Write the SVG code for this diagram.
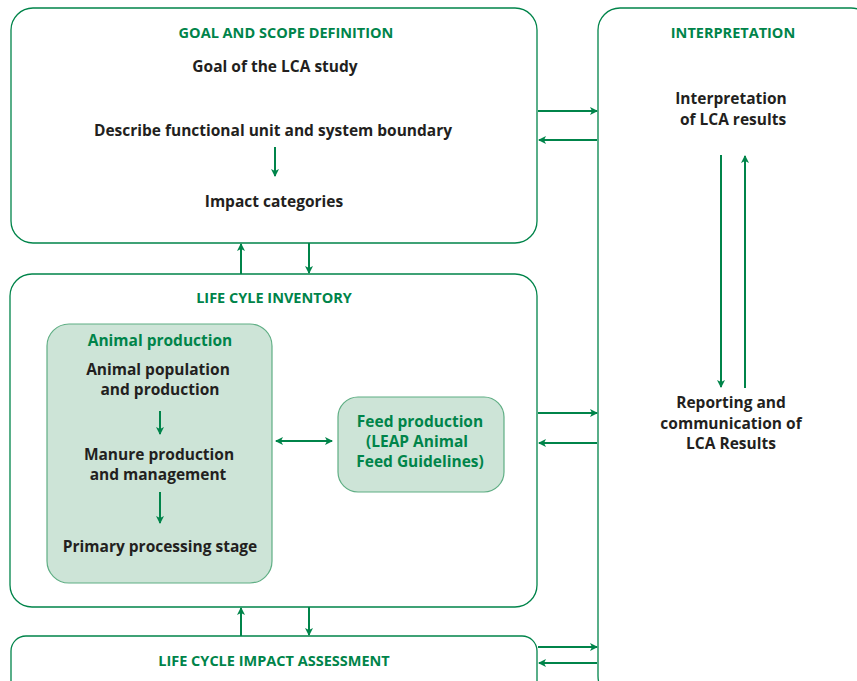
<svg xmlns="http://www.w3.org/2000/svg" width="857" height="681" viewBox="0 0 857 681">
<style>
.box{fill:#fff;stroke:#00844a;stroke-width:1.3}
.sub{fill:#cde4d7;stroke:#5fae84;stroke-width:1.2}
.h{font-family:"Open Sans","Liberation Sans",sans-serif;font-weight:bold;font-size:14.5px;fill:#00844a;text-anchor:middle}
.t{font-family:"Open Sans","Liberation Sans",sans-serif;font-weight:bold;font-size:15.5px;fill:#231f20;text-anchor:middle}
.g{font-family:"Open Sans","Liberation Sans",sans-serif;font-weight:bold;font-size:15.5px;fill:#00844a;text-anchor:middle}
.c{stroke:#00844a;stroke-width:2;fill:none}
</style>
<defs>
<marker id="ah" markerWidth="10" markerHeight="10" refX="8" refY="5" orient="auto" markerUnits="userSpaceOnUse">
<path d="M1,1 L9,5 L1,9 L3,5 z" fill="#00844a"/>
</marker>
<marker id="as" markerWidth="10" markerHeight="10" refX="2" refY="5" orient="auto" markerUnits="userSpaceOnUse">
<path d="M9,1 L1,5 L9,9 L7,5 z" fill="#00844a"/>
</marker>
</defs>
<g id="interpretation">
<rect class="box" x="598" y="8" width="275" height="690" rx="22"/>
<text class="h" x="733" y="38">INTERPRETATION</text>
<text class="t" x="731" y="104">Interpretation</text>
<text class="t" x="733" y="125">of LCA results</text>
<text class="t" x="731" y="408">Reporting and</text>
<text class="t" x="731" y="428.5">communication of</text>
<text class="t" x="731" y="449">LCA Results</text>
</g>
<g id="goal">
<rect class="box" x="11" y="8" width="526" height="235" rx="22"/>
<text class="h" x="286" y="38">GOAL AND SCOPE DEFINITION</text>
<text class="t" x="275" y="72">Goal of the LCA study</text>
<text class="t" x="273" y="136">Describe functional unit and system boundary</text>
<text class="t" x="274" y="207">Impact categories</text>
</g>
<g id="lci">
<rect class="box" x="10" y="274" width="527" height="333" rx="22"/>
<text class="h" x="274" y="303">LIFE CYLE INVENTORY</text>
</g>
<g id="animal">
<rect class="sub" x="47" y="324" width="225" height="259" rx="22"/>
<text class="g" x="160" y="346">Animal production</text>
<text class="t" x="158" y="375">Animal population</text>
<text class="t" x="160" y="395">and production</text>
<text class="t" x="159" y="460">Manure production</text>
<text class="t" x="158" y="480">and management</text>
<text class="t" x="160" y="552">Primary processing stage</text>
</g>
<g id="feed">
<rect class="sub" x="338" y="397" width="166" height="95" rx="20"/>
<text class="g" x="420" y="427">Feed production</text>
<text class="g" x="417" y="447">(LEAP Animal</text>
<text class="g" x="420" y="467">Feed Guidelines)</text>
</g>
<g id="lcia">
<rect class="box" x="11" y="636" width="526" height="60" rx="15"/>
<text class="h" x="274" y="666">LIFE CYCLE IMPACT ASSESSMENT</text>
</g>
<g id="connectors">
<line class="c" x1="275" y1="147" x2="275" y2="176" marker-end="url(#ah)"/>
<line class="c" x1="241" y1="274" x2="241" y2="244" marker-end="url(#ah)"/>
<line class="c" x1="309" y1="243" x2="309" y2="273" marker-end="url(#ah)"/>
<line class="c" x1="538" y1="111" x2="597" y2="111" marker-end="url(#ah)"/>
<line class="c" x1="597" y1="140" x2="539" y2="140" marker-end="url(#ah)"/>
<line class="c" x1="721" y1="155" x2="721" y2="387" marker-end="url(#ah)"/>
<line class="c" x1="745" y1="388" x2="745" y2="156" marker-end="url(#ah)"/>
<line class="c" x1="160" y1="411" x2="160" y2="434" marker-end="url(#ah)"/>
<line class="c" x1="160" y1="492" x2="160" y2="523" marker-end="url(#ah)"/>
<line class="c" x1="276" y1="441" x2="332" y2="441" marker-start="url(#as)" marker-end="url(#ah)"/>
<line class="c" x1="538" y1="413" x2="597" y2="413" marker-end="url(#ah)"/>
<line class="c" x1="597" y1="443" x2="539" y2="443" marker-end="url(#ah)"/>
<line class="c" x1="241" y1="636" x2="241" y2="608" marker-end="url(#ah)"/>
<line class="c" x1="309" y1="607" x2="309" y2="635" marker-end="url(#ah)"/>
<line class="c" x1="538" y1="647" x2="597" y2="647" marker-end="url(#ah)"/>
<line class="c" x1="597" y1="663" x2="539" y2="663" marker-end="url(#ah)"/>
</g>
</svg>
